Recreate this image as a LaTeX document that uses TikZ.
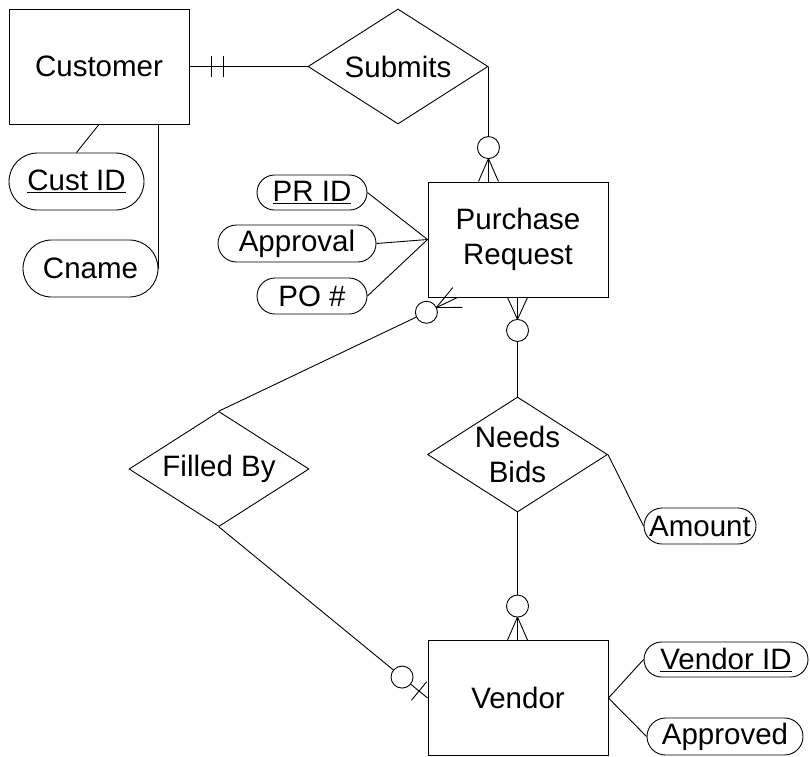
\documentclass[tikz,border=0pt]{standalone}
\usepackage{fontspec}
\setmainfont{Liberation Sans}
\usetikzlibrary{shapes.geometric,calc}
\begin{document}
\begin{tikzpicture}[x=1pt,y=-1pt, line width=0.9pt,
  every node/.style={font=\fontsize{29.5}{35}\selectfont},
  entity/.style={draw, minimum width=180pt, minimum height=115pt, inner sep=0pt, align=center},
  rel/.style={draw, diamond, minimum width=180pt, minimum height=115pt, inner sep=0pt},
  attr/.style={draw, inner sep=0pt}]
\useasboundingbox (0,0) rectangle (810,756);

% entities
\node[entity] (cust) at (99,66.5) {Customer};
\node[entity] (pr) at (518,239.5) {Purchase\\Request};
\node[entity] (ven) at (518,698) {Vendor};

% relationships
\node[rel] (sub) at (398,66.5) {};
\node (subt) at (sub) {Submits};
\node[rel] (fb) at (219,469) {};
\node (fbt) at (fb) {Filled By};
\node[rel] (nb) at (517.5,454.5) {};
\node[align=center] (nbt) at (nb) {Needs\\Bids};

% attributes
\node[attr, minimum width=135pt, minimum height=57pt, rounded corners=28.5pt] (custid) at (76.5,181.5) {\underline{Cust ID}};
\node[attr, minimum width=135pt, minimum height=57pt, rounded corners=28.5pt] (cname) at (90.5,268.5) {Cname};
\node[attr, minimum width=110pt, minimum height=35pt, rounded corners=17.5pt] (prid) at (312,192.5) {\underline{PR ID}};
\node[attr, minimum width=158pt, minimum height=37pt, rounded corners=18.5pt] (appr) at (297,243.5) {Approval};
\node[attr, minimum width=110pt, minimum height=36pt, rounded corners=18pt] (pono) at (312,296) {PO \#};
\node[attr, minimum width=112pt, minimum height=36pt, rounded corners=18pt] (amt) at (700,526) {Amount};
\node[attr, minimum width=164pt, minimum height=35pt, rounded corners=17.5pt] (vid) at (726,659.5) {\underline{Vendor ID}};
\node[attr, minimum width=156pt, minimum height=37pt, rounded corners=18.5pt] (apvd) at (725,736.5) {Approved};

% Customer -- Submits (one and only one)
\draw (cust.east) -- (sub.west);
\draw ($(cust.east)+(22,-10.5)$) -- ++(0,21);
\draw ($(cust.east)+(34,-10.5)$) -- ++(0,21);

% Submits -- Purchase Request (zero or many)
\coordinate (spr) at (sub.east |- pr.north);
\draw (sub.east) -- ($(spr)+(0,-45)$);
\draw ($(spr)+(0,-34)$) circle (11pt);
\draw ($(spr)+(0,-23)$) -- ($(spr)+(-10,0)$);
\draw ($(spr)+(0,-23)$) -- (spr);
\draw ($(spr)+(0,-23)$) -- ($(spr)+(10,0)$);

% Purchase Request -- Needs Bids (zero or many)
\coordinate (pb) at (nb.north |- pr.south);
\draw (nb.north) -- ($(pb)+(0,44)$);
\draw ($(pb)+(0,33)$) circle (11pt);
\draw ($(pb)+(0,22)$) -- ($(pb)+(-10,0)$);
\draw ($(pb)+(0,22)$) -- (pb);
\draw ($(pb)+(0,22)$) -- ($(pb)+(10,0)$);

% Needs Bids -- Vendor (zero or many)
\coordinate (vt) at (nb.south |- ven.north);
\draw (nb.south) -- ($(vt)+(0,-45)$);
\draw ($(vt)+(0,-34)$) circle (11pt);
\draw ($(vt)+(0,-23)$) -- ($(vt)+(-10,0)$);
\draw ($(vt)+(0,-23)$) -- (vt);
\draw ($(vt)+(0,-23)$) -- ($(vt)+(10,0)$);

% Filled By -- Purchase Request (zero or many)
\coordinate (pf) at ($(pr.south west)+(30,0)$);
\draw (fb.north) -- ($(pf)!45.5pt!(fb.north)$);
\draw ($(pf)!34.5pt!(fb.north)$) circle (11pt);
\coordinate (pa) at ($(pf)!23.5pt!(fb.north)$);
\draw (pa) -- (pf);
\draw (pa) -- ($(pf)!11pt!90:(fb.north)$);
\draw (pa) -- ($(pf)!11pt!-90:(fb.north)$);

% Filled By -- Vendor (zero or one)
\draw (fb.south) -- ($(ven.west)!44pt!(fb.south)$);
\draw ($(ven.west)!33pt!(fb.south)$) circle (11pt);
\draw ($(ven.west)!22pt!(fb.south)$) -- (ven.west);
\coordinate (vb) at ($(ven.west)!11pt!(fb.south)$);
\draw ($(vb)!12pt!90:(ven.west)$) -- ($(vb)!12pt!-90:(ven.west)$);

% attribute links
\draw (cust.south) -- (custid.north);
\coordinate (cn) at (cname.east |- cust.south);
\draw (cn) -- (cname.east);
\draw (prid.east) -- (pr.west);
\draw (appr.east) -- (pr.west);
\draw (pono.east) -- (pr.west);
\draw (nb.east) -- (amt.west);
\draw (ven.east) -- (vid.west);
\draw (ven.east) -- (apvd.west);
\end{tikzpicture}
\end{document}
